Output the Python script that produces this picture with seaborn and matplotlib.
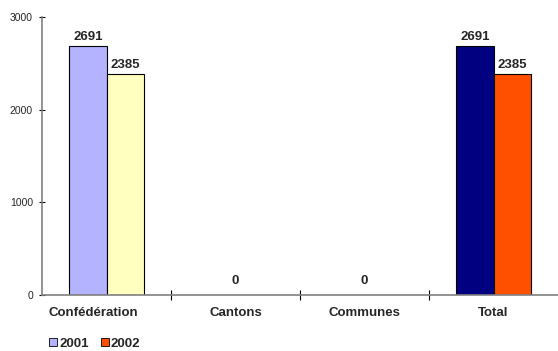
import matplotlib
matplotlib.use("Agg")
import matplotlib.pyplot as plt
from matplotlib.patches import Patch
from matplotlib.transforms import ScaledTranslation
import seaborn as sns
import pandas as pd

categories = ["Confédération", "Cantons", "Communes", "Total"]
years = ["2001", "2002"]
values_2001 = [2691, 0, 0, 2691]
values_2002 = [2385, 0, 0, 2385]
y_ticks = [0, 1000, 2000, 3000]

# fill colours for each bar, per year, in category order
colors_2001 = ["#B3B3FF", "#B3B3FF", "#B3B3FF", "#000080"]
colors_2002 = ["#FFFFC0", "#FFFFC0", "#FFFFC0", "#FF5000"]
legend_colors = {"2001": "#B3B3FF", "2002": "#FF5000"}

df = pd.DataFrame({
    "category": categories * 2,
    "year": [years[0]] * len(categories) + [years[1]] * len(categories),
    "value": values_2001 + values_2002,
})

sns.set_style("white")
plt.rcParams["font.family"] = ["Liberation Sans", "DejaVu Sans"]

fig = plt.figure(figsize=(5.58, 3.51), dpi=100)
ax = fig.add_axes([42 / 558, 1 - 295 / 351, 516 / 558, 278 / 351])

sns.barplot(data=df, x="category", y="value", hue="year", order=categories,
            hue_order=years, width=0.574, ax=ax, legend=False,
            edgecolor="black", linewidth=0.8)

for container, cols, vals in zip(ax.containers, [colors_2001, colors_2002],
                                 [values_2001, values_2002]):
    for bar, c, v in zip(container, cols, vals):
        bar.set_facecolor(c)
        if v == 0:
            bar.set_linewidth(0)
    labels = [str(v) if v != 0 else "" for v in vals]
    ax.bar_label(container, labels=labels, padding=2, fontsize=9.5,
                 fontweight="bold")

# a single zero label centred over each empty category
for i, (a, b) in enumerate(zip(values_2001, values_2002)):
    if a == 0 and b == 0:
        ax.annotate("0", xy=(i, 0), xytext=(0, 6), textcoords="offset points",
                    ha="center", va="bottom", fontsize=9.5, fontweight="bold")

ax.set_xlim(-0.5, 3.5)
ax.set_ylim(0, 3000)
ax.set_yticks(y_ticks)
ax.set_yticklabels([str(t) for t in y_ticks], fontsize=7.5)
ax.set_xticks(range(len(categories)))
ax.set_xticklabels(categories, fontsize=9.5, fontweight="bold")
ax.set_xticks([0.5, 1.5, 2.5], minor=True)
ax.tick_params(axis="x", which="major", length=0, pad=9)
ax.tick_params(axis="x", which="minor", direction="inout", length=7,
               width=0.8, color="black", bottom=True)
ax.tick_params(axis="y", direction="inout", length=5, width=0.8,
               color="black", pad=4, left=True)
ax.set_xlabel("")
ax.set_ylabel("")

# the long first label sits a little left of its slot
first = ax.get_xticklabels()[0]
first.set_transform(first.get_transform()
                    + ScaledTranslation(-13 / 100, 1 / 100, fig.dpi_scale_trans))

for side in ["top", "right"]:
    ax.spines[side].set_visible(False)
for side in ["left", "bottom"]:
    ax.spines[side].set_color("#808080")
    ax.spines[side].set_linewidth(1.2)

handles = [Patch(facecolor=legend_colors[y], edgecolor="black", linewidth=0.6,
                 label=y) for y in years]
fig.legend(handles=handles, loc="lower left", bbox_to_anchor=(48 / 558, 0.0),
           ncol=2, frameon=False, handlelength=0.6, handleheight=0.6,
           handletextpad=0.15, columnspacing=0.9, borderpad=0.1,
           borderaxespad=0.0, prop={"size": 9.5, "weight": "bold"})

fig.savefig("out.png", dpi=100)
